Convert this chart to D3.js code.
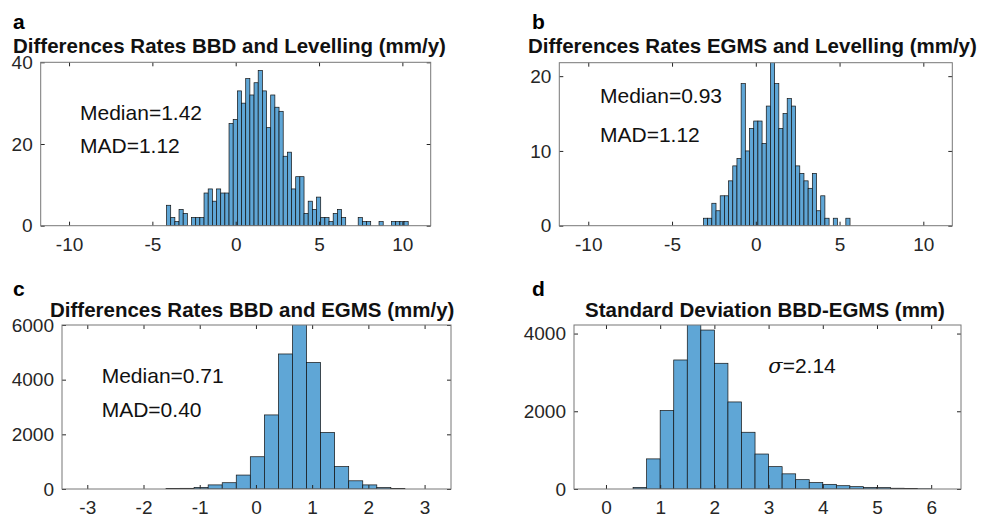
<!DOCTYPE html>
<html>
<head>
<meta charset="utf-8">
<script src="https://cdn.jsdelivr.net/npm/d3@7"></script>
<style>
  body { margin: 0; background: #fff; }
  svg { display: block; font-family: "Liberation Sans", Arial, sans-serif; }
</style>
</head>
<body>
<svg id="chart" width="1002" height="519"></svg>
<script>
// Panel a: differences BBD - levelling (bin width 0.25 mm/y)
const startA = -4.15, binA = 0.25;
const countsA = [5, 2, 1, 4, 3, 0, 2, 2, 2, 8, 9, 6, 9, 8, 8, 25, 26, 33, 30, 36,
                 32, 35, 38, 33, 24, 32, 29, 28, 17, 18, 9, 12, 12, 3, 6, 4, 7, 2, 2, 1,
                 3, 4, 2, 0, 0, 0, 2, 1, 1, 0, 0, 1, 0, 0, 1, 1, 1, 1];

// Panel b: differences EGMS - levelling
const startB = -3.125, binB = 0.25;
const countsB = [1, 1, 3, 2, 4, 4, 6, 8, 9, 19, 10, 13, 14, 14, 11, 16, 22, 19, 13, 15,
                 17, 16, 8, 7, 6, 5, 7, 2, 4, 1, 0, 1, 0, 0, 1];

// Panel c: differences BBD - EGMS
const startC = -1.6, binC = 0.25;
const countsC = [15, 25, 60, 150, 230, 510, 1180, 2710, 4940, 6100, 4630, 2070, 820, 300, 150, 50, 15];

// Panel d: standard deviation BBD-EGMS
const startD = 0.5, binD = 0.25;
const countsD = [40, 775, 2020, 3320, 4250, 4090, 3235, 2240, 1460, 900, 575, 390, 240, 165,
                 120, 85, 60, 40, 35, 20, 10, 5];

const ticksA = [-10, -5, 0, 5, 10], yTicksA = [0, 20, 40];
const ticksB = [-10, -5, 0, 5, 10], yTicksB = [0, 10, 20];
const ticksC = [-3, -2, -1, 0, 1, 2, 3], yTicksC = [0, 2000, 4000, 6000];
const ticksD = [0, 1, 2, 3, 4, 5, 6], yTicksD = [0, 2000, 4000];

const titles = [
  "Differences Rates BBD and Levelling (mm/y)",
  "Differences Rates EGMS and Levelling (mm/y)",
  "Differences Rates BBD and EGMS (mm/y)",
  "Standard Deviation BBD-EGMS (mm)"
];
const statsA = ["Median=1.42", "MAD=1.12"];
const statsB = ["Median=0.93", "MAD=1.12"];
const statsC = ["Median=0.71", "MAD=0.40"];
const statD = "2.14";

const svg = d3.select("#chart");

const panels = [
  { id: "a", title: titles[0], start: startA, bin: binA, counts: countsA,
    xDomain: [-11.7, 11.7], yDomain: [0, 40], xTicks: ticksA, yTicks: yTicksA,
    box: [40.7, 430.7, 62.3, 225.7], labelPos: [13, 29], titlePos: [13, 53],
    stats: statsA, statsPos: [80, 120, 152.7] },
  { id: "b", title: titles[1], start: startB, bin: binB, counts: countsB,
    xDomain: [-11.73, 11.73], yDomain: [0, 21.8], xTicks: ticksB, yTicks: yTicksB,
    box: [559.3, 952.3, 62.7, 225.7], labelPos: [532, 29], titlePos: [528, 53],
    stats: statsB, statsPos: [600, 103.3, 141.7] },
  { id: "c", title: titles[2], start: startC, bin: binC, counts: countsC,
    xDomain: [-3.45, 3.47], yDomain: [0, 6000], xTicks: ticksC, yTicks: yTicksC,
    box: [62, 451, 325, 489], labelPos: [13, 296], titlePos: [50, 316.7],
    stats: statsC, statsPos: [101.7, 383.3, 416.7] },
  { id: "d", title: titles[3], start: startD, bin: binD, counts: countsD,
    xDomain: [-0.59, 6.55], yDomain: [0, 4220], xTicks: ticksD, yTicks: yTicksD,
    box: [574, 961, 325, 489], labelPos: [532, 296], titlePos: [585, 316.7],
    sigma: statD, statsPos: [768.3, 373.3] }
];

const tickColor = "#262626";

panels.forEach(p => {
  const [x0, x1, y0, y1] = p.box;
  const x = d3.scaleLinear().domain(p.xDomain).range([x0, x1]);
  const y = d3.scaleLinear().domain(p.yDomain).range([y1, y0]);
  const g = svg.append("g");

  g.append("clipPath").attr("id", "clip-" + p.id)
    .append("rect").attr("x", x0).attr("y", y0).attr("width", x1 - x0).attr("height", y1 - y0);

  // бины гистограммы
  const bins = p.counts.map((c, i) => ({ a: p.start + i * p.bin, b: p.start + (i + 1) * p.bin, c }))
    .filter(d => d.c > 0);

  g.append("g").attr("clip-path", `url(#clip-${p.id})`)
    .selectAll("rect")
    .data(bins)
    .join("rect")
    .attr("x", d => x(d.a))
    .attr("width", d => x(d.b) - x(d.a))
    .attr("y", d => y(d.c))
    .attr("height", d => y(0) - y(d.c))
    .attr("fill", "#5fa6d6")
    .attr("stroke", "#111")
    .attr("stroke-width", 0.7);

  // оси
  const styleAxis = sel => {
    sel.select(".domain").remove();
    sel.selectAll("line").attr("stroke", tickColor);
    sel.selectAll("text").attr("fill", tickColor).style("font-size", "19px")
      .style("font-family", "'Liberation Sans', Arial, sans-serif");
  };
  const fmt = d => d < 0 ? "-" + Math.abs(d) : String(d);

  g.append("g").attr("transform", `translate(0,${y1})`)
    .call(d3.axisBottom(x).tickValues(p.xTicks).tickSize(-4).tickPadding(12).tickFormat(fmt))
    .call(styleAxis);
  g.append("g").attr("transform", `translate(0,${y0})`)
    .call(d3.axisTop(x).tickValues(p.xTicks).tickSize(-4).tickFormat(""))
    .call(styleAxis);
  g.append("g").attr("transform", `translate(${x0},0)`)
    .call(d3.axisLeft(y).tickValues(p.yTicks).tickSize(-4).tickPadding(8).tickFormat(fmt))
    .call(styleAxis);
  g.append("g").attr("transform", `translate(${x1},0)`)
    .call(d3.axisRight(y).tickValues(p.yTicks).tickSize(-4).tickFormat(""))
    .call(styleAxis);

  g.append("rect")
    .attr("x", x0).attr("y", y0)
    .attr("width", x1 - x0).attr("height", y1 - y0)
    .attr("fill", "none")
    .attr("stroke", "#777")
    .attr("stroke-width", 1);

  g.append("text")
    .attr("x", p.labelPos[0]).attr("y", p.labelPos[1])
    .style("font-size", "21px").style("font-weight", "bold")
    .attr("fill", "#000")
    .text(p.id);

  g.append("text")
    .attr("x", p.titlePos[0]).attr("y", p.titlePos[1])
    .style("font-size", "20.5px").style("font-weight", "bold")
    .attr("fill", "#111")
    .text(p.title);

  if (p.stats) {
    p.stats.forEach((s, i) => {
      g.append("text")
        .attr("x", p.statsPos[0]).attr("y", p.statsPos[1 + i])
        .style("font-size", "21px")
        .attr("fill", "#111")
        .text(s);
    });
  } else {
    const t = g.append("text")
      .attr("x", p.statsPos[0]).attr("y", p.statsPos[1])
      .style("font-size", "21px")
      .attr("fill", "#111");
    t.append("tspan").style("font-style", "italic").style("font-family", "'DejaVu Serif', serif").text("σ");
    t.append("tspan").text("=" + p.sigma);
  }
});
</script>
</body>
</html>
